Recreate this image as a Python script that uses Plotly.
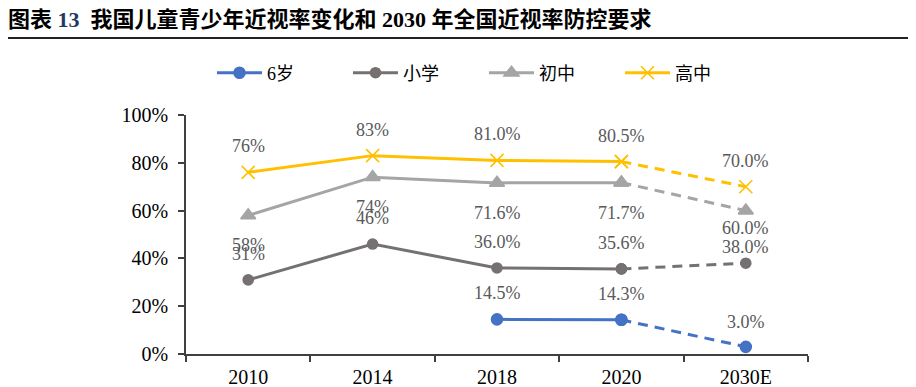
import plotly.graph_objects as go

# ---------------- data ----------------
categories = ["2010", "2014", "2018", "2020", "2030E"]
age6 = [None, None, 0.145, 0.143, 0.030]
primary = [0.31, 0.46, 0.360, 0.356, 0.380]
junior = [0.58, 0.74, 0.716, 0.717, 0.600]
senior = [0.76, 0.83, 0.810, 0.805, 0.700]

label_age6 = [None, None, "14.5%", "14.3%", "3.0%"]
label_primary = ["31%", "46%", "36.0%", "35.6%", "38.0%"]
label_junior = ["58%", "74%", "71.6%", "71.7%", "60.0%"]
label_senior = ["76%", "83%", "81.0%", "80.5%", "70.0%"]

series_names = ["6岁", "小学", "初中", "高中"]
y_ticks = [0, 0.2, 0.4, 0.6, 0.8, 1.0]
y_tick_text = ["0%", "20%", "40%", "60%", "80%", "100%"]

title_html = ("<b>图表 <span style='color:#1F3A5F'>13</span>  "
              "我国儿童青少年近视率变化和 2030 年全国近视率防控要求</b>")

# ---------------- styles ----------------
SERIF = "Liberation Serif, Times New Roman, Noto Sans CJK SC, serif"
colors = ["#4472C4", "#767171", "#A5A5A5", "#FFC000"]
symbols = ["circle", "circle", "triangle-up", "x-thin"]
msizes = [11, 10, 13, 13]
label_shift = [26, 26, -30, 26]          # px offsets of the value labels
label_shift_last = [25, 16, -17, 26]     # offsets for the 2030E labels
SPLIT = 3  # index of 2020: solid before, dashed after

values = [age6, primary, junior, senior]
labels = [label_age6, label_primary, label_junior, label_senior]

fig = go.Figure()
for i, (name, vals) in enumerate(zip(series_names, values)):
    marker = dict(symbol=symbols[i], size=msizes[i], color=colors[i],
                  line=dict(color=colors[i], width=1.6))
    # dashed projection segment
    fig.add_trace(go.Scatter(
        x=categories[SPLIT:], y=vals[SPLIT:], mode="lines+markers",
        line=dict(color=colors[i], width=3, dash="10px,7px"),
        marker=marker, showlegend=False, hoverinfo="skip"))
    # solid historical segment
    fig.add_trace(go.Scatter(
        x=categories[:SPLIT + 1], y=vals[:SPLIT + 1], mode="lines+markers",
        name=name, line=dict(color=colors[i], width=3),
        marker=marker, connectgaps=False))

annotations = []
for i, (vals, labs) in enumerate(zip(values, labels)):
    for j, (v, t) in enumerate(zip(vals, labs)):
        if v is None:
            continue
        shift = label_shift_last[i] if j == len(categories) - 1 else label_shift[i]
        annotations.append(dict(
            x=j, y=v, xref="x", yref="y", text=t, showarrow=False,
            yshift=shift, xanchor="center", yanchor="middle",
            font=dict(family=SERIF, size=18, color="#595959")))

# page body has an 8px margin: figure is placed at (8, 8)
OFF = 8
W, H = 916 - OFF, 387 - OFF
PL, PR, PT, PB = 186 - OFF, 808 - OFF, 115 - OFF, 354 - OFF
PW, PH = PR - PL, PB - PT

fig.update_layout(
    width=W, height=H,
    margin=dict(l=PL, r=W - PR, t=PT, b=H - PB, autoexpand=False),
    paper_bgcolor="white", plot_bgcolor="white",
    title=dict(text=title_html, x=0, xref="container",
               xanchor="left", y=1 - (19 - OFF) / H, yref="container", yanchor="middle",
               font=dict(family=SERIF, size=22, color="#000000")),
    showlegend=True,
    legend=dict(orientation="h", x=(212 - OFF - PL) / PW, xanchor="left",
                y=(PB - (73 - OFF)) / PH, yanchor="middle",
                font=dict(family=SERIF, size=18, color="#000000"),
                entrywidth=76, entrywidthmode="pixels",
                traceorder="normal", bgcolor="rgba(0,0,0,0)", itemwidth=45),
    annotations=annotations,
    shapes=[dict(type="line", xref="paper", yref="paper",
                 x0=(8 - 186) / PW, x1=(916 - 186) / PW,
                 y0=(354 - 38) / PH, y1=(354 - 38) / PH,
                 line=dict(color="#222222", width=2))],
    xaxis=dict(type="category", categoryorder="array", categoryarray=categories,
               range=[-0.5, len(categories) - 0.5],
               showline=True, linecolor="#404040", linewidth=1.5,
               ticks="outside", ticklen=6, tickcolor="#404040", tickwidth=1.5,
               tickson="boundaries", showgrid=False, zeroline=False,
               tickfont=dict(family=SERIF, size=20, color="#000000"),
               ticklabelstandoff=4, fixedrange=True),
    yaxis=dict(range=[0, 1.0], tickvals=y_ticks, ticktext=y_tick_text,
               showline=True, linecolor="#404040", linewidth=1.5,
               ticks="outside", ticklen=6, tickcolor="#404040", tickwidth=1.5,
               showgrid=False, zeroline=False,
               tickfont=dict(family=SERIF, size=20, color="#000000"),
               ticklabelstandoff=6, fixedrange=True),
)

fig.write_html("out.html")
